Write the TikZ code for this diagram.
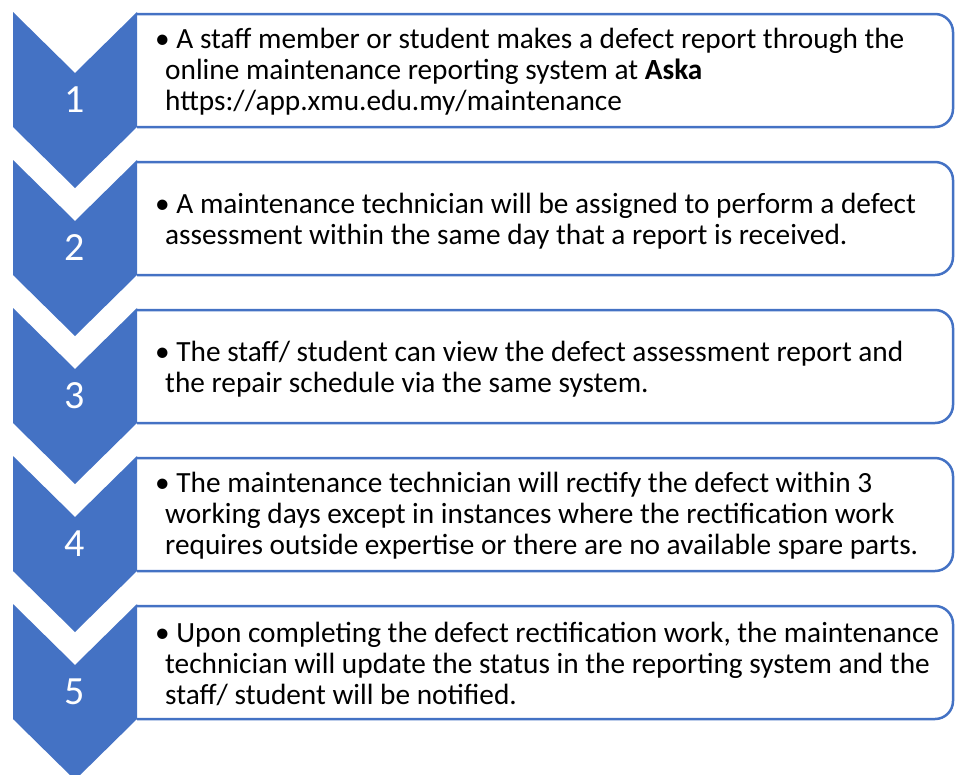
\documentclass[tikz,border=0pt]{standalone}
\usepackage{fontspec}
\setmainfont{Carlito}
\usepackage{xcolor}
\usepackage{tikz}
\usetikzlibrary{positioning}

\definecolor{stepblue}{RGB}{68,114,196}

\tikzset{
  chevron/.style={fill=stepblue},
  stepbox/.style={draw=stepblue, line width=2.5pt, rounded corners=18pt},
  stepnum/.style={text=white, inner sep=0pt, font=\fontsize{40}{40}\selectfont},
  steptext/.style={anchor=west, align=left, inner sep=0pt, text=black,
    font=\fontsize{29.3}{31}\selectfont},
}

\begin{document}
\begin{tikzpicture}[x=1pt, y=-1pt]
    \useasboundingbox (0,0) rectangle (958,774);
    \clip (0,0) rectangle (958,774);
    % boxes
    \draw[stepbox] (137,14) -- (953,14) -- (953,127) -- (137,127);
    \draw[stepbox] (137,162) -- (953,162) -- (953,275) -- (137,275);
    \draw[stepbox] (137,310) -- (953,310) -- (953,423) -- (137,423);
    \draw[stepbox] (137,458) -- (953,458) -- (953,571) -- (137,571);
    \draw[stepbox] (137,606) -- (953,606) -- (953,719) -- (137,719);
    % chevrons
    \fill[chevron] (13,12) -- (75,73) -- (137,12) -- (137,127) -- (75,188) -- (13,127) -- cycle;
    \fill[chevron] (13,160) -- (75,221) -- (137,160) -- (137,275) -- (75,336) -- (13,275) -- cycle;
    \fill[chevron] (13,308) -- (75,369) -- (137,308) -- (137,423) -- (75,484) -- (13,423) -- cycle;
    \fill[chevron] (13,456) -- (75,517) -- (137,456) -- (137,571) -- (75,632) -- (13,571) -- cycle;
    \fill[chevron] (13,604) -- (75,665) -- (137,604) -- (137,719) -- (75,780) -- (13,719) -- cycle;
    % numbers
    \node[stepnum] (n1) at (75,100) {1};
    \node[stepnum] (n2) at (75,248) {2};
    \node[stepnum] (n3) at (75,396) {3};
    \node[stepnum] (n4) at (75,544) {4};
    \node[stepnum] (n5) at (75,692) {5};
    % texts
    \node[steptext] (t1) at (155,72) {\textbullet\ A staff member or student makes a defect report through the\\
      \hspace*{10pt}online maintenance reporting system at \textbf{Aska}\\
      \hspace*{10pt}https://app.xmu.edu.my/maintenance};
    \node[steptext] (t2) at (155,221) {\textbullet\ A maintenance technician will be assigned to perform a defect\\
      \hspace*{10pt}assessment within the same day that a report is received.};
    \node[steptext] (t3) at (155,369) {\textbullet\ The staff/ student can view the defect assessment report and\\
      \hspace*{10pt}the repair schedule via the same system.};
    \node[steptext] (t4) at (155,516) {\textbullet\ The maintenance technician will rectify the defect within 3\\
      \hspace*{10pt}working days except in instances where the rectification work\\
      \hspace*{10pt}requires outside expertise or there are no available spare parts.};
    \node[steptext] (t5) at (155,664) {\textbullet\ Upon completing the defect rectification work, the maintenance\\
      \hspace*{10pt}technician will update the status in the reporting system and the\\
      \hspace*{10pt}staff/ student will be notified.};
\end{tikzpicture}
\end{document}
